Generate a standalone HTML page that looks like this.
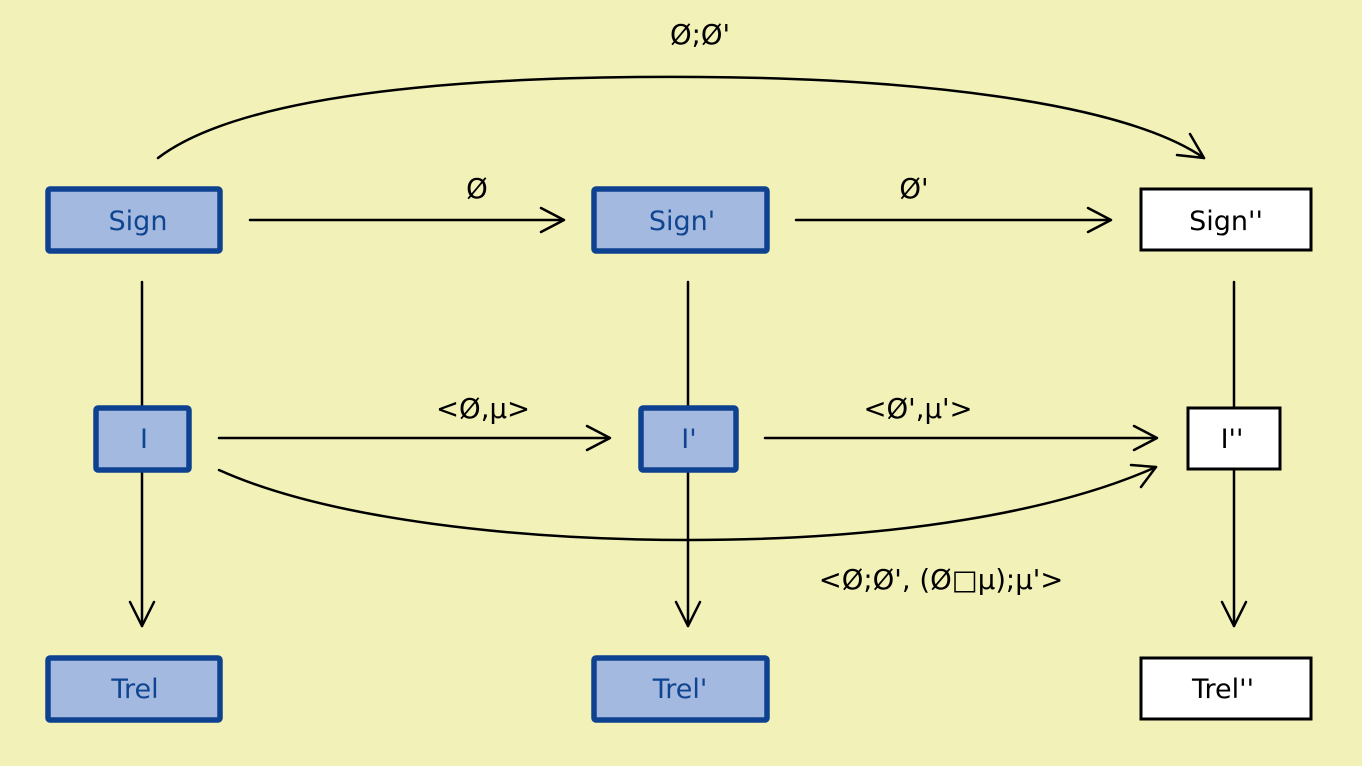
<!DOCTYPE html>
<html><head><meta charset="utf-8"><style>
html,body{margin:0;padding:0;background:#f2f1b8;}
svg{display:block;}
text{font-family:"DejaVu Sans","Liberation Sans",sans-serif;}
</style></head><body>
<svg width="1362" height="766" viewBox="0 0 1362 766" xmlns="http://www.w3.org/2000/svg">
<rect width="1362" height="766" fill="#f2f1b8"/>
<g stroke="#000" stroke-width="2.5" fill="none" stroke-linecap="round" stroke-linejoin="round">
<line x1="250" y1="220" x2="563" y2="220"/><polyline points="541,208 564,220 541,232"/>
<line x1="796" y1="220" x2="1110" y2="220"/><polyline points="1088,208 1111,220 1088,232"/>
<line x1="219" y1="438" x2="609" y2="438"/><polyline points="587,426 610,438 587,450"/>
<line x1="765" y1="438" x2="1156" y2="438"/><polyline points="1134,426 1157,438 1134,450"/>
<line x1="142" y1="282" x2="142" y2="626"/><polyline points="130,602 142,626 154,602"/>
<line x1="688" y1="282" x2="688" y2="626"/><polyline points="676,602 688,626 700,602"/>
<line x1="1234" y1="282" x2="1234" y2="626"/><polyline points="1222,602 1234,626 1246,602"/>
<path d="M158,158 C260,80 560,76 700,77 C900,78 1120,100 1204,158"/>
<polyline points="1177,155 1204,158 1190,134"/>
<path d="M219,470 C330,520 520,540 690,540 C900,540 1060,510 1156,467"/>
<polyline points="1131,465 1156,467 1141,487"/>
</g>
<g stroke="#0e4290" stroke-width="5.5" fill="#a3b9df">
<rect x="48" y="189" width="172" height="62" rx="2"/>
<rect x="594" y="189" width="173" height="62" rx="2"/>
<rect x="96" y="408" width="93" height="62" rx="2"/>
<rect x="641" y="408" width="95" height="62" rx="2"/>
<rect x="48" y="658" width="172" height="62" rx="2"/>
<rect x="594" y="658" width="173" height="62" rx="2"/>
</g>
<g stroke="#000" stroke-width="3" fill="#fff">
<rect x="1141" y="189" width="170" height="61"/>
<rect x="1188" y="408" width="92" height="61"/>
<rect x="1141" y="658" width="170" height="61"/>
</g>
<g font-size="27" text-anchor="middle" fill="#0f4491">
<text x="138" y="230">Sign</text>
<text x="682" y="230">Sign'</text>
<text x="144" y="448">I</text>
<text x="689" y="448">I'</text>
<text x="135" y="698">Trel</text>
<text x="680" y="698">Trel'</text>
</g>
<g font-size="27" text-anchor="middle" fill="#000">
<text x="1226" y="230">Sign''</text>
<text x="1232" y="448">I''</text>
<text x="1223" y="698">Trel''</text>
</g>
<g font-size="27.5" text-anchor="middle" fill="#000">
<text x="700" y="44">Ø;Ø'</text>
<text x="477" y="198">Ø</text>
<text x="914" y="198">Ø'</text>
<text x="483" y="418">&lt;Ø,μ&gt;</text>
<text x="918" y="418">&lt;Ø',μ'&gt;</text>
<text x="941" y="589">&lt;Ø;Ø', (Ø□μ);μ'&gt;</text>
</g>
</svg>
</body></html>
